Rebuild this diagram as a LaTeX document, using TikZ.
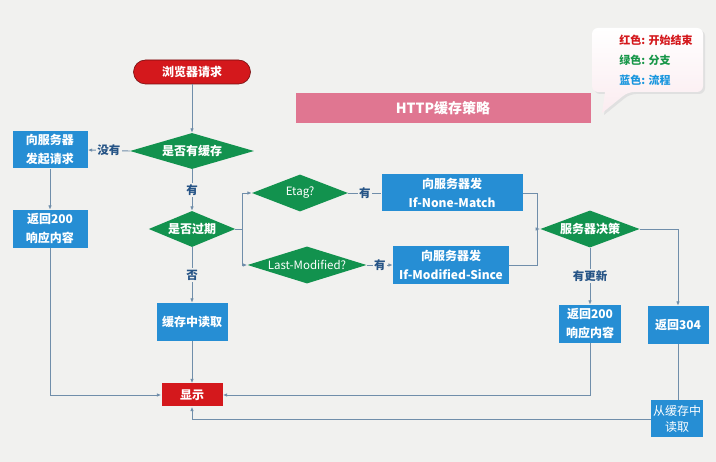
\documentclass[tikz,border=0pt]{standalone}
\usepackage{fontspec}
\setmainfont{Noto Sans CJK SC}
\usetikzlibrary{arrows.meta,shapes.geometric}

\begin{document}
\begin{tikzpicture}[
  x=1pt,y=-1pt,
  >={Latex[length=4.5pt,width=3.6pt]},
  font=\fontsize{12}{19}\selectfont\bfseries,
  link/.style={line width=.9pt,draw=wire},
  flow/.style={link,->},
  process/.style={rectangle,fill=procblue,text=white,align=center,inner sep=0pt},
  decision/.style={diamond,aspect=3.4,fill=branchgreen,text=white,inner sep=0pt},
  terminal/.style={rectangle,fill=endred,text=white,inner sep=0pt},
  tag/.style={fill=paper,text=tagblue,inner sep=1.5pt,font=\fontsize{11.5}{13}\selectfont\bfseries}
]

\definecolor{paper}{RGB}{241,241,239}
\definecolor{wire}{RGB}{112,142,170}
\definecolor{procblue}{RGB}{38,142,212}
\definecolor{branchgreen}{RGB}{18,146,78}
\definecolor{endred}{RGB}{212,24,28}
\definecolor{tagblue}{RGB}{38,84,134}
\definecolor{titlepink}{RGB}{224,118,145}
\definecolor{skyblue}{RGB}{24,150,222}
\definecolor{legendgreen}{RGB}{22,150,72}

\useasboundingbox (0,0) rectangle (716,462);
\fill[paper] (0,0) rectangle (716,462);

% title and legend
\node[fill=titlepink,text=white,minimum width=295pt,minimum height=30pt,
  font=\fontsize{14}{16}\selectfont\bfseries] (title) at (443,108) {HTTP缓存策略};

\fill[black!12,rounded corners=6pt] (594,30) -- (705,30) -- (705,94) -- (630,94)
  [sharp corners] -- (604,115) -- (607,94) [rounded corners=6pt] -- (594,94) -- cycle;
\shade[top color=white,bottom color=titlepink!14,rounded corners=6pt]
  (592,28) -- (703,28) -- (703,92) -- (628,92)
  [sharp corners] -- (602,113) -- (605,92) [rounded corners=6pt] -- (592,92) -- cycle;
\node[align=left,font=\fontsize{11}{20}\selectfont\bfseries] (legend) at (656,60)
  {\textcolor{endred}{红色: 开始结束}\\
   \textcolor{legendgreen}{绿色: 分支}\\
   \textcolor{skyblue}{蓝色: 流程}};

% main column
\node[terminal,rounded corners=12pt,draw=endred!55!black,line width=.6pt,
  minimum width=117pt,minimum height=24pt] (request) at (192,72) {浏览器请求};
\node[decision,minimum width=124pt,minimum height=36pt] (hascache) at (192,151) {是否有缓存};
\node[process,minimum width=75pt,minimum height=37pt] (askserver) at (50,150) {向服务器\\发起请求};
\node[process,minimum width=75pt,minimum height=38pt] (fresh) at (50,229) {返回200\\响应内容};
\node[decision,minimum width=79pt,minimum height=36pt] (expired) at (192,229) {是否过期};
\node[process,minimum width=71pt,minimum height=38pt] (readcache) at (192,322) {缓存中读取};
\node[terminal,minimum width=61pt,minimum height=23pt] (show) at (192,395) {显示};

% validation branch
\node[decision,font=\fontsize{11.5}{13}\selectfont,minimum width=96pt,minimum height=37pt]
  (etag) at (300,193) {Etag?};
\node[process,minimum width=141pt,minimum height=37pt] (nonematch) at (452,193)
  {向服务器发\\If-None-Match};
\node[decision,font=\fontsize{11.5}{13}\selectfont,minimum width=119pt,minimum height=37pt]
  (lastmod) at (307,265) {Last-Modified?};
\node[process,minimum width=116pt,minimum height=38pt] (modsince) at (451,265)
  {向服务器发\\If-Modified-Since};
\node[decision,minimum width=86pt,minimum height=37pt] (decide) at (590,229) {服务器决策};
\node[process,minimum width=62pt,minimum height=38pt] (updated) at (590,324) {返回200\\响应内容};
\node[process,minimum width=61pt,minimum height=38pt] (notmod) at (678,325) {返回304};
\node[process,minimum width=52pt,minimum height=37pt,
  font=\fontsize{12}{16}\selectfont] (fromcache) at (677,419) {从缓存中\\读取};

\coordinate (split) at (242,229);
\coordinate (merge) at (537,229);

% connectors
\draw[flow] (request) -- (hascache);
\draw[flow] (hascache.west) -- node[tag] (nocache) {没有} (askserver.east);
\draw[flow] (askserver) -- (fresh);
\draw[flow] (fresh.south) |- (show.west);
\draw[flow] (hascache.south) -- node[tag] (cached) {有} (expired.north);
\draw[flow] (expired.south) -- node[tag] (notexpired) {否} (readcache.north);
\draw[flow] (readcache) -- (show);

\draw[link] (expired.east) -- (split);
\draw[flow] (split) |- (etag.west);
\draw[flow] (split) |- (lastmod.west);
\draw[link] (etag.east) -- node[tag] (hasetag) {有} (nonematch.west);
\draw[flow] (lastmod.east) -- node[tag] (haslastmod) {有} (modsince.west);
\draw[link] (nonematch.east) -| (merge);
\draw[link] (modsince.east) -| (merge);
\draw[flow] (merge) -- (decide.west);

\draw[flow] (decide.south) -- node[tag] (changed) {有更新} (updated.north);
\draw[flow] (decide.east) -| (notmod.north);
\draw[link] (notmod.south) -- (notmod.south |- fromcache.north);
\draw[flow] (updated.south) |- (show.east);
\draw[flow] (fromcache.west) -| (show.south);

\end{tikzpicture}
\end{document}
